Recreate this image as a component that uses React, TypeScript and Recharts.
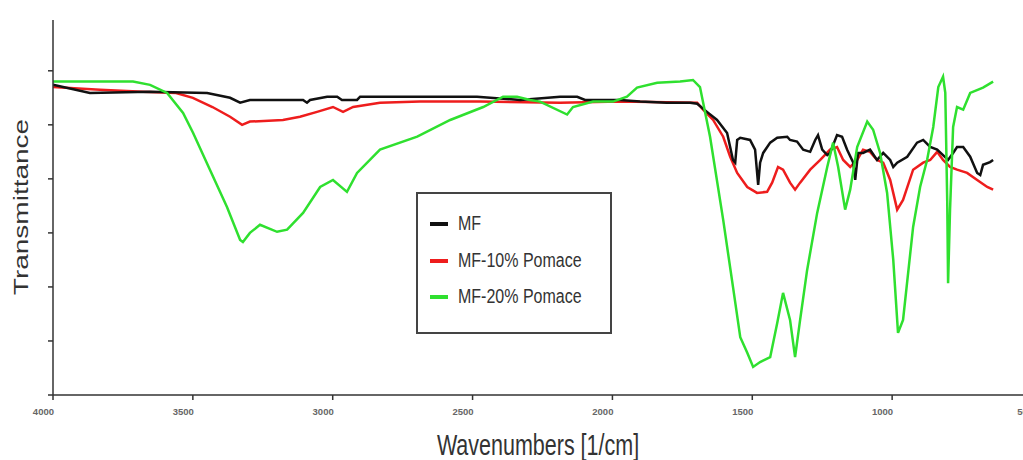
import { LineChart, Line, XAxis, YAxis, Legend } from 'recharts';

// [wavenumber (1/cm), transmittance (a.u.)]
const mfPoints: number[][] = [
  [4000, 57.4], [3868, 55.9], [3654, 56.1], [3449, 55.9], [3367, 55.0], [3331, 54.1],
  [3296, 54.6], [3106, 54.6], [3092, 54.1], [3081, 54.6], [3020, 55.2], [2984, 55.2],
  [2967, 54.6], [2913, 54.6], [2902, 55.2], [2484, 55.2], [2330, 54.6], [2187, 55.2],
  [2126, 55.2], [2098, 54.6], [2055, 54.6], [1973, 54.6], [1901, 54.3], [1805, 54.1],
  [1722, 54.1], [1697, 53.9], [1662, 52.4], [1626, 50.9], [1590, 48.5], [1569, 43.5],
  [1561, 43.0], [1554, 47.2], [1543, 47.6], [1508, 47.2], [1490, 45.4], [1479, 38.9],
  [1472, 43.0], [1461, 44.8], [1436, 46.7], [1411, 47.6], [1375, 47.8], [1365, 47.2],
  [1340, 46.9], [1318, 45.4], [1293, 45.0], [1275, 47.2], [1265, 48.1], [1250, 45.4],
  [1232, 44.4], [1222, 44.8], [1197, 48.1], [1179, 47.8], [1161, 45.4], [1139, 43.0],
  [1132, 39.8], [1122, 44.8], [1104, 44.8], [1079, 45.4], [1054, 43.5], [1032, 44.8],
  [1007, 43.5], [996, 42.2], [982, 43.0], [946, 44.1], [911, 46.7], [889, 47.2],
  [864, 45.9], [839, 45.4], [818, 44.4], [800, 43.5], [782, 44.8], [768, 45.9],
  [746, 45.9], [721, 44.1], [696, 41.1], [685, 40.7], [675, 42.6], [650, 43.1], [639, 43.5],
];

const pomace10Points: number[][] = [
  [4000, 57.0], [3832, 56.5], [3678, 56.1], [3560, 55.9], [3500, 55.0], [3430, 53.3],
  [3367, 51.5], [3324, 50.0], [3296, 50.6], [3178, 50.9], [3117, 51.5], [3056, 52.4],
  [2999, 53.3], [2963, 52.4], [2927, 53.3], [2831, 54.1], [2688, 54.3], [2473, 54.3],
  [2187, 54.1], [1973, 54.3], [1697, 54.1], [1676, 52.8], [1640, 50.9], [1604, 47.8],
  [1579, 44.1], [1554, 41.1], [1518, 38.5], [1483, 37.4], [1447, 37.6], [1429, 39.3],
  [1408, 42.2], [1390, 41.7], [1365, 39.3], [1347, 38.0], [1329, 39.3], [1293, 41.7],
  [1257, 43.5], [1222, 45.4], [1197, 45.9], [1175, 43.5], [1150, 42.2], [1125, 43.5],
  [1104, 45.4], [1079, 45.0], [1054, 43.5], [1032, 43.0], [1007, 39.8], [982, 34.3],
  [961, 36.1], [925, 41.7], [889, 43.0], [864, 43.5], [839, 45.0], [818, 43.5],
  [793, 42.2], [768, 41.7], [732, 41.1], [696, 39.8], [660, 38.5], [639, 38.0],
];

const pomace20Points: number[][] = [
  [4000, 58.0], [3714, 58.0], [3653, 57.4], [3592, 55.9], [3535, 52.2], [3499, 48.5],
  [3439, 41.7], [3378, 34.8], [3331, 28.7], [3321, 28.3], [3296, 30.0], [3260, 31.5],
  [3199, 30.2], [3163, 30.6], [3106, 33.7], [3045, 38.5], [2999, 39.8], [2949, 37.6],
  [2913, 41.1], [2831, 45.4], [2698, 47.8], [2580, 50.9], [2462, 53.3], [2391, 55.2],
  [2341, 55.2], [2294, 54.6], [2259, 54.3], [2162, 51.9], [2141, 53.3], [2069, 54.3],
  [1998, 54.3], [1948, 55.2], [1912, 56.9], [1840, 57.8], [1758, 58.0], [1712, 58.3],
  [1687, 57.0], [1651, 47.8], [1604, 32.4], [1569, 20.0], [1543, 10.7], [1518, 7.8],
  [1497, 5.2], [1472, 6.1], [1436, 7.0], [1411, 13.3], [1390, 18.9], [1365, 13.9],
  [1347, 7.0], [1329, 13.9], [1304, 23.1], [1268, 33.7], [1232, 42.2], [1211, 46.7],
  [1193, 42.2], [1168, 34.3], [1150, 38.0], [1125, 45.9], [1089, 50.6], [1068, 49.1],
  [1043, 44.8], [1018, 37.4], [996, 25.0], [979, 11.5], [961, 13.9], [925, 31.1],
  [900, 38.5], [875, 43.5], [853, 49.6], [835, 57.0], [818, 58.9], [810, 55.9],
  [803, 35.6], [800, 20.7], [793, 34.3], [782, 49.6], [768, 53.3], [746, 52.8],
  [721, 55.9], [675, 56.9], [639, 58.0],
];

const xTicks = [4000, 3500, 3000, 2500, 2000, 1500, 1000, 500];
const yTicks = [0, 10, 20, 30, 40, 50, 60];

const series = [
  { name: 'MF', color: '#111111', points: mfPoints },
  { name: 'MF-10% Pomace', color: '#ee1d1d', points: pomace10Points },
  { name: 'MF-20% Pomace', color: '#2fe02f', points: pomace20Points },
];

const toRows = (pts: number[][]) => pts.map(([w, t]) => ({ w, t }));

const font = '"Liberation Sans", Arial, sans-serif';

const XTick = (props: any) => {
  const { x, payload } = props;
  return (
    <text x={x + 1} y={415} textAnchor="end" fontSize={9.5} fontWeight="bold" fill="#666" fontFamily={font}>
      {payload.value}
    </text>
  );
};

const NoTick = () => <g />;

const LegendBox = () => (
  <div
    style={{
      width: 196,
      height: 142,
      border: '2px solid #444',
      background: '#fff',
      fontFamily: font,
      paddingTop: 12,
      boxSizing: 'border-box',
    }}
  >
    {series.map((s) => (
      <div key={s.name} style={{ display: 'flex', alignItems: 'center', height: 36.5 }}>
        <div style={{ width: 18, height: 4, background: s.color, marginLeft: 12, marginRight: 10 }} />
        <span
          style={{
            fontSize: 16,
            color: '#333',
            display: 'inline-block',
            transform: 'scaleY(1.25)',
            transformOrigin: 'left center',
            whiteSpace: 'nowrap',
          }}
        >
          {s.name}
        </span>
      </div>
    ))}
  </div>
);

export default function App() {
  return (
    <div style={{ position: 'absolute', left: 0, top: 0, width: 1023, height: 460, overflow: 'hidden', background: '#fff' }}>
      <LineChart width={1040} height={460} margin={{ top: 20, right: 8, bottom: 0, left: 0 }}>
        <XAxis
          dataKey="w"
          type="number"
          domain={[500, 4000]}
          reversed
          ticks={xTicks}
          interval={0}
          tick={<XTick />}
          tickSize={5}
          height={65}
          stroke="#333"
          strokeWidth={1.5}
          allowDataOverflow
          label={{
            content: () => (
              <text
                transform="translate(538,455) scale(1,1.35)"
                textAnchor="middle"
                fontSize={21.5}
                fill="#333"
                fontFamily={font}
              >
                Wavenumbers [1/cm]
              </text>
            ),
          }}
        />
        <YAxis
          type="number"
          domain={[0, 69.4]}
          ticks={yTicks}
          interval={0}
          tick={<NoTick />}
          tickLine={{ stroke: '#333', strokeWidth: 1.5 }}
          tickSize={5}
          width={53}
          stroke="#333"
          strokeWidth={1.5}
          allowDataOverflow
          label={{
            content: () => (
              <text
                transform="translate(28,207) rotate(-90) scale(1.4,1)"
                textAnchor="middle"
                fontSize={20}
                fill="#333"
                fontFamily={font}
              >
                Transmittance
              </text>
            ),
          }}
        />
        <Legend
          layout="vertical"
          align="center"
          verticalAlign="middle"
          content={() => <LegendBox />}
          wrapperStyle={{ position: 'absolute', left: 416, top: 192, width: 'auto' }}
        />
        {[series[1], series[0], series[2]].map((s) => (
          <Line
            key={s.name}
            data={toRows(s.points)}
            dataKey="t"
            name={s.name}
            type="linear"
            stroke={s.color}
            strokeWidth={2.5}
            dot={false}
            isAnimationActive={false}
          />
        ))}
      </LineChart>
    </div>
  );
}
